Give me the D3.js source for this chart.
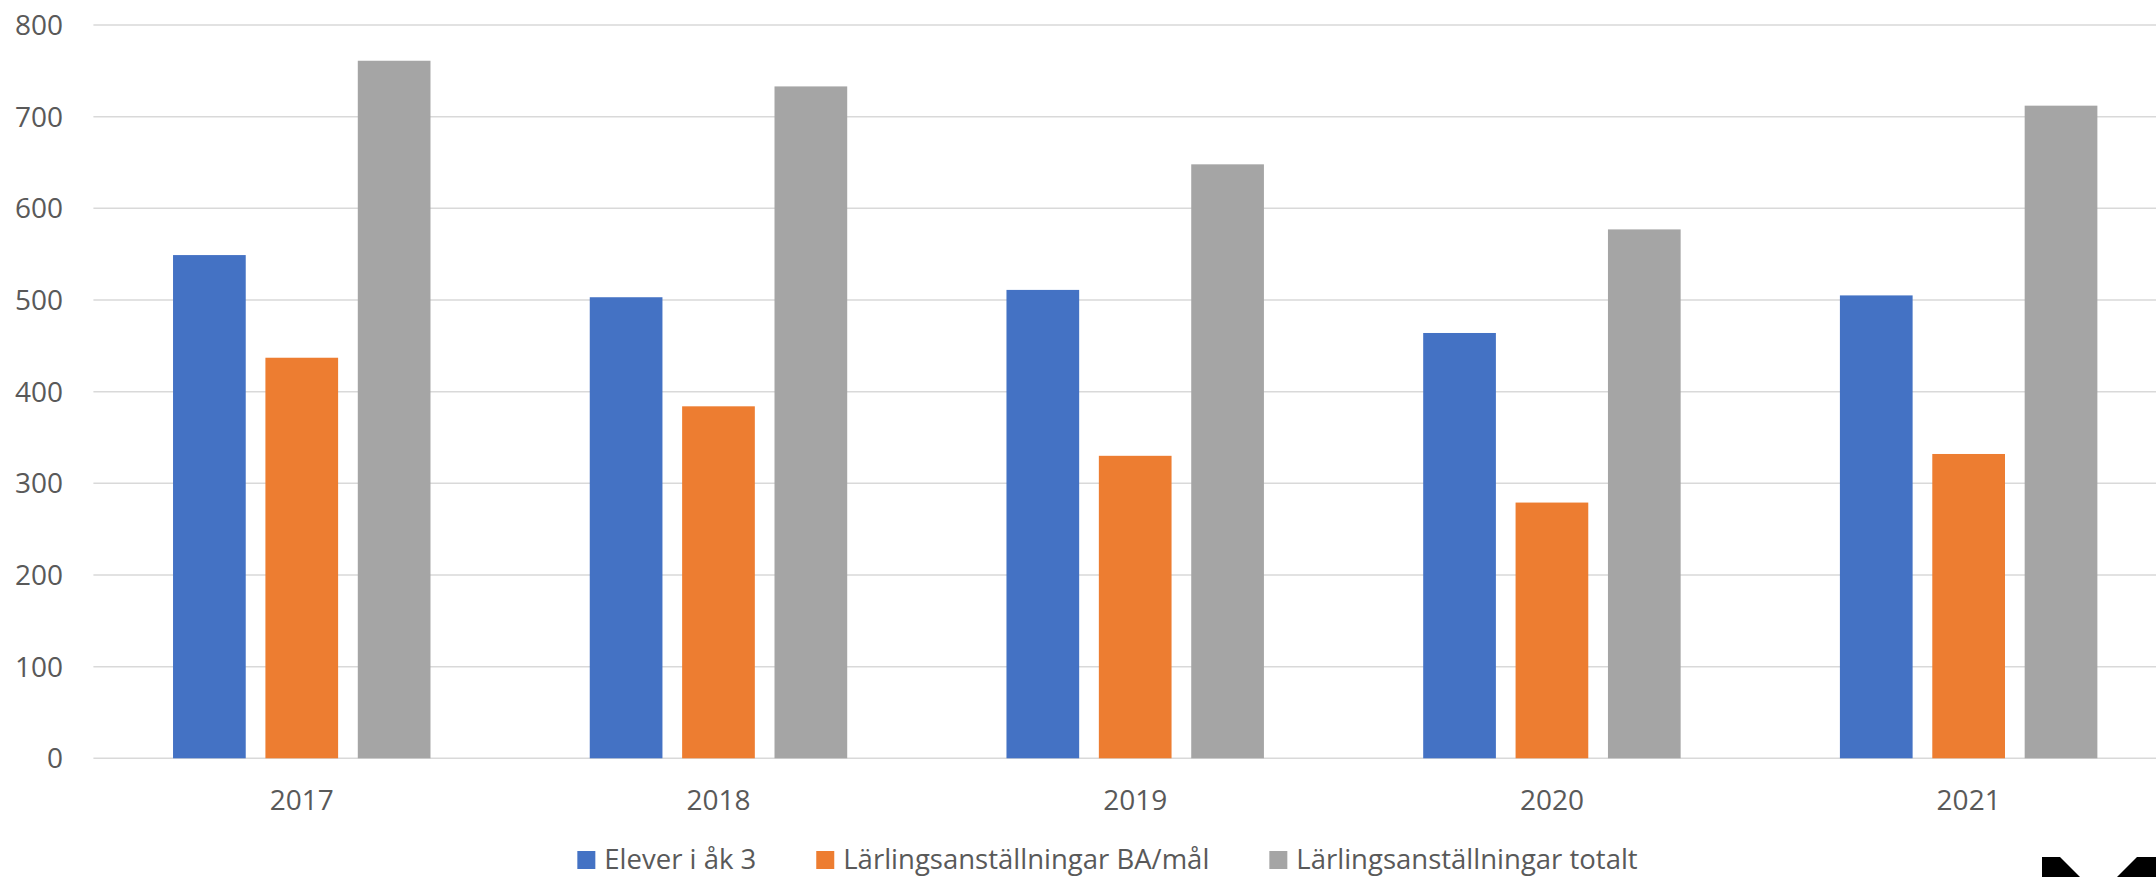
<!DOCTYPE html>
<html>
<head>
<meta charset="utf-8">
<script src="https://cdn.jsdelivr.net/npm/d3@7"></script>
<style>
  html, body { margin: 0; padding: 0; background: #fff; }
  svg { display: block; }
  .tick-label { font-family: "Open Sans", sans-serif; font-size: 28px; fill: #595959; }
  .legend-text { font-family: "Open Sans", sans-serif; font-size: 27.5px; fill: #595959; }
</style>
</head>
<body>
<div id="chart"></div>
<script>
// chart data
var years = ['2017', '2018', '2019', '2020', '2021'];
var seriesNames = ['Elever i åk 3', 'Lärlingsanställningar BA/mål', 'Lärlingsanställningar totalt'];
var elever = [549, 503, 511, 464, 505];
var baMal = [437, 384, 330, 279, 332];
var totalt = [761, 733, 648, 577, 712];
var yTicks = [0, 100, 200, 300, 400, 500, 600, 700, 800];
var colors = ['#4472C4', '#ED7D31', '#A5A5A5'];

var width = 2156;
var height = 877;

var svg = d3.select('#chart').append('svg')
  .attr('width', width)
  .attr('height', height);

// plot area runs past the right edge of the picture
var plotLeft = 93.4;
var plotRight = 2177;
var plotTop = 25;
var plotBottom = 758.3;

var y = d3.scaleLinear().domain([0, 800]).range([plotBottom, plotTop]);

var x0 = d3.scaleBand().domain(years).range([plotLeft, plotRight]).padding(0);
var x1 = d3.scaleBand().domain(seriesNames).range([0, x0.bandwidth()])
  .paddingInner(0.213)
  .paddingOuter(0.862);

//gridlines
svg.append('g').selectAll('line')
  .data(yTicks)
  .enter().append('line')
  .attr('x1', plotLeft)
  .attr('x2', plotRight)
  .attr('y1', function(d) { return y(d); })
  .attr('y2', function(d) { return y(d); })
  .attr('stroke', '#D9D9D9')
  .attr('stroke-width', 1.5);

//y labels
svg.append('g').selectAll('text')
  .data(yTicks)
  .enter().append('text')
  .attr('class', 'tick-label')
  .attr('x', 63)
  .attr('y', function(d) { return y(d); })
  .attr('dy', '0.36em')
  .attr('text-anchor', 'end')
  .text(function(d) { return d; });

//bars
var table = years.map(function(yr, i) {
  return { year: yr, values: [elever[i], baMal[i], totalt[i]] };
});

var groups = svg.append('g').selectAll('g')
  .data(table)
  .enter().append('g')
  .attr('transform', function(d) { return 'translate(' + x0(d.year) + ',0)'; });

groups.selectAll('rect')
  .data(function(d) {
    return d.values.map(function(v, j) { return { name: seriesNames[j], value: v, color: colors[j] }; });
  })
  .enter().append('rect')
  .attr('x', function(d) { return x1(d.name); })
  .attr('width', x1.bandwidth())
  .attr('y', function(d) { return y(d.value); })
  .attr('height', function(d) { return y(0) - y(d.value); })
  .attr('fill', function(d) { return d.color; });

//x labels
svg.append('g').selectAll('text')
  .data(years)
  .enter().append('text')
  .attr('class', 'tick-label')
  .attr('x', function(d) { return x0(d) + x0.bandwidth() / 2; })
  .attr('y', 810)
  .attr('text-anchor', 'middle')
  .text(function(d) { return d; });

//legend (kept just inside the bottom edge)
var legend = svg.append('g');
var boxSize = 18;
var boxGap = 9;
var itemGap = 60;
var legendX = 0;
seriesNames.forEach(function(name, i) {
  var item = legend.append('g');
  item.append('rect')
    .attr('x', 0)
    .attr('y', 851)
    .attr('width', boxSize)
    .attr('height', boxSize)
    .attr('fill', colors[i]);
  var t = item.append('text')
    .attr('class', 'legend-text')
    .attr('x', boxSize + boxGap)
    .attr('y', 869)
    .text(name);
  var w = boxSize + boxGap + t.node().getComputedTextLength();
  item.attr('transform', 'translate(' + legendX + ',0)');
  legendX += w + itemGap;
});
var legendWidth = legendX - itemGap;
legend.attr('transform', 'translate(' + (1107.5 - legendWidth / 2) + ',0)');

//corner logo fragment
var logo = d3.path();
logo.moveTo(2042, 857);
logo.lineTo(2060, 857);
logo.lineTo(2080, 877);
logo.lineTo(2042, 877);
logo.closePath();
logo.moveTo(2117, 877);
logo.lineTo(2137, 857);
logo.lineTo(2156, 857);
logo.lineTo(2156, 877);
logo.closePath();
svg.append('path').attr('d', logo.toString()).attr('fill', '#000');
</script>
</body>
</html>
